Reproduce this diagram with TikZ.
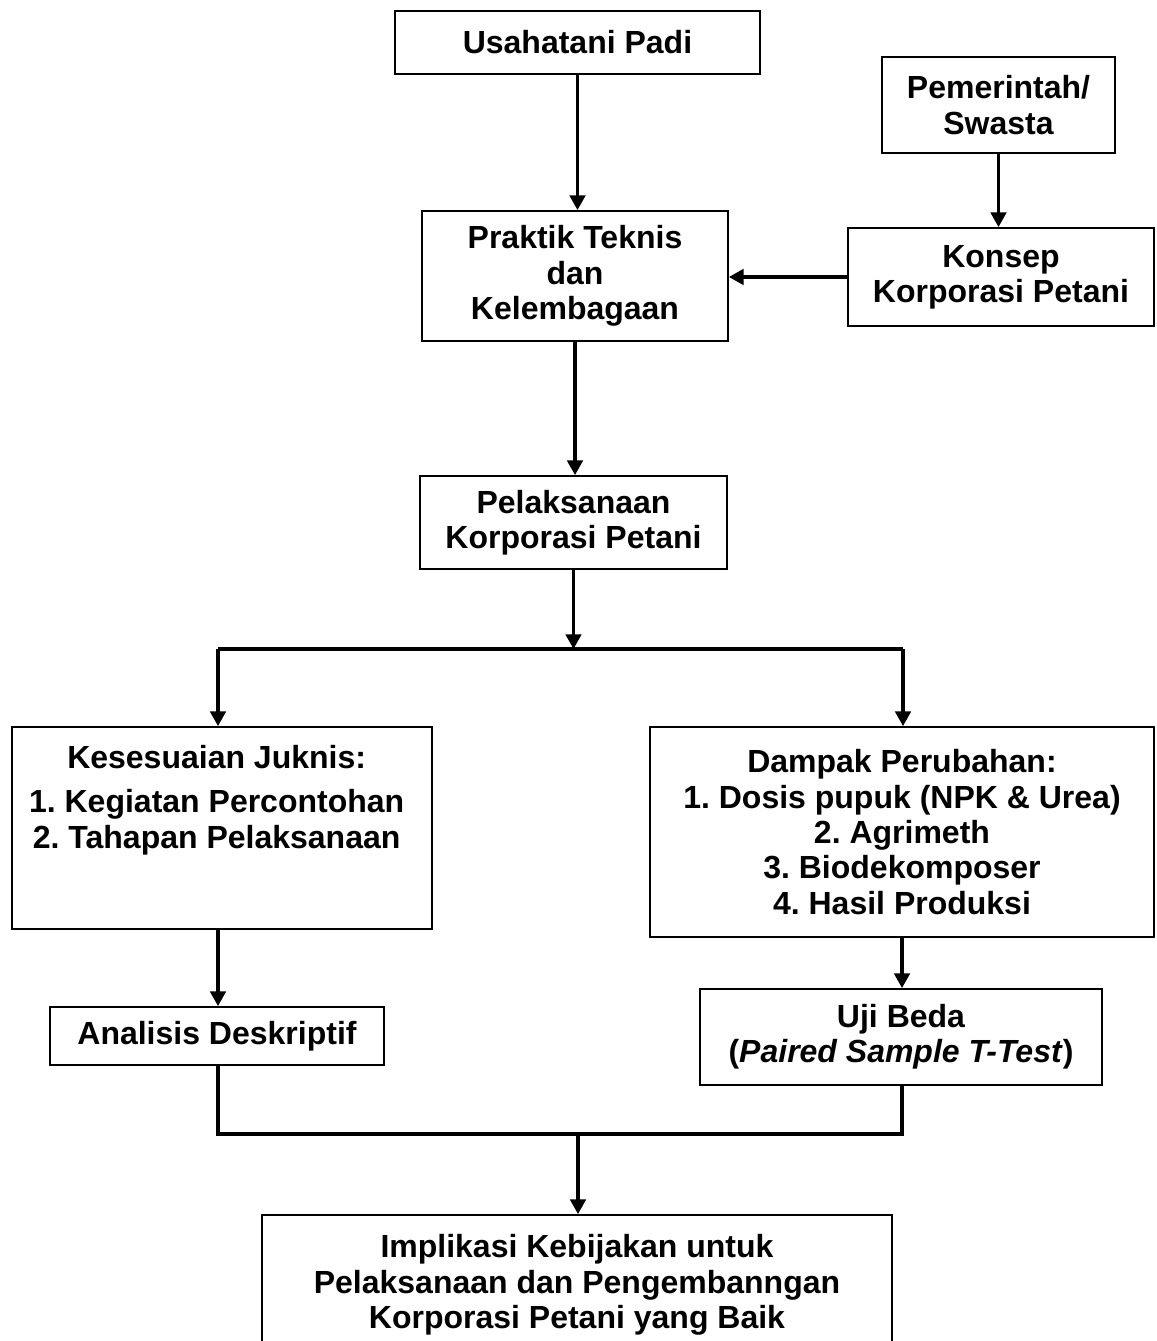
\documentclass[tikz,border=0pt]{standalone}
\usepackage{fontspec}
\setmainfont{Liberation Sans}
\usetikzlibrary{arrows.meta}
\frenchspacing
\begin{document}
\begin{tikzpicture}[x=0.75pt,y=-0.75pt,
  box/.style={draw,line width=1.3pt,align=center,inner sep=0pt,
    font=\bfseries\fontsize{24}{26.5}\selectfont},
  txt/.style={align=center,inner sep=0pt,font=\bfseries\fontsize{24}{26.5}\selectfont},
  conn/.style={line width=2.6pt,-{Triangle[length=11pt,width=11.5pt]}},
  bar/.style={line width=2.8pt,line join=miter}]
\useasboundingbox (0,0) rectangle (1156,1341);

\node[box,minimum width=273.75pt,minimum height=47.25pt] (usa) at (577.5,42.5) {Usahatani Padi};
\node[box,minimum width=174.75pt,minimum height=72pt] (pem) at (998.5,105) {Pemerintah/\\Swasta};
\node[box,minimum width=229.5pt,minimum height=73.5pt] (kon) at (1001,277) {Konsep\\Korporasi Petani};
\node[box,minimum width=229.5pt,minimum height=97.5pt] (pra) at (575,276) {Praktik Teknis\\dan\\Kelembagaan};
\node[box,minimum width=230.25pt,minimum height=69.75pt] (pel) at (573.5,522.5) {Pelaksanaan\\Korporasi Petani};
\node[box,minimum width=315pt,minimum height=151.5pt] (kes) at (222,828) {};
\node[txt,anchor=north] (kestxt) at ([xshift=-4pt,yshift=-14pt]kes.north) {Kesesuaian Juknis:\\[7pt]1. Kegiatan Percontohan\\2. Tahapan Pelaksanaan};
\node[box,minimum width=378pt,minimum height=157.5pt] (dam) at (902,832) {Dampak Perubahan:\\1. Dosis pupuk (NPK \& Urea)\\2. Agrimeth\\3. Biodekomposer\\4. Hasil Produksi};
\node[box,minimum width=250.5pt,minimum height=43.5pt] (ana) at (217,1036) {Analisis Deskriptif};
\node[box,minimum width=301.5pt,minimum height=72pt] (uji) at (901,1037) {Uji Beda\\(\textit{Paired Sample T-Test})};
\node[box,minimum width=472.5pt,minimum height=105pt] (imp) at (577,1285) {Implikasi Kebijakan untuk\\Pelaksanaan dan Pengembanngan\\Korporasi Petani yang Baik};

\coordinate (split) at (574,649);
\coordinate (sl) at (218,649);
\coordinate (sr) at (903,649);
\coordinate (jl) at (218,1134);
\coordinate (jr) at (902,1134);
\coordinate (jm) at (578,1134);

\draw[conn] (usa.south) -- (usa.south |- pra.north);
\draw[conn] (pem.south) -- (pem.south |- kon.north);
\draw[conn] (kon.west) -- (kon.west -| pra.east);
\draw[conn] (pra.south) -- (pra.south |- pel.north);
\draw[conn] (pel.south) -- (pel.south |- split);
\draw[bar] (sl) -- (sr);
\draw[conn] (sl) -- (sl |- kes.north);
\draw[conn] (sr) -- (sr |- dam.north);
\draw[conn] (sl |- kes.south) -- (sl |- ana.north);
\draw[conn] (jr |- dam.south) -- (jr |- uji.north);
\draw[bar] (sl |- ana.south) -- (jl) -- (jr) -- (jr |- uji.south);
\draw[conn] (jm) -- (jm |- imp.north);
\end{tikzpicture}
\end{document}
